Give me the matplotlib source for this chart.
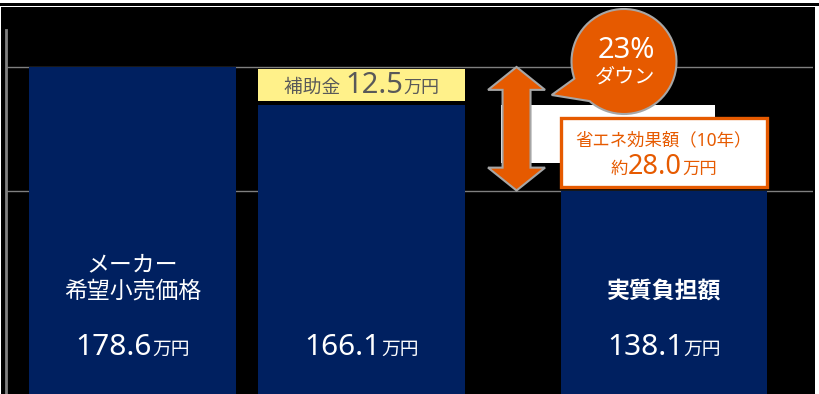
import numpy as np
import matplotlib
matplotlib.use("Agg")
import matplotlib.pyplot as plt
import matplotlib.transforms as mtransforms
from matplotlib.patches import Rectangle, Polygon, PathPatch
from matplotlib.path import Path
from matplotlib.offsetbox import TextArea, HPacker, AnnotationBbox

plt.rcParams['font.family'] = ['Noto Sans', 'Noto Sans CJK JP', 'DejaVu Sans']

# ---- data (単位: 万円) ----
bar_names = ['メーカー\n希望小売価格', '', '実質負担額']
bar_values = [178.6, 166.1, 138.1]
bar_x = [0.0, 1.0, 2.32]
subsidy = 12.5
saving_10yr = 28.0
reduction_pct = 23
unit = '万円'

NAVY = '#002060'
ORANGE = '#E65A00'
YELLOW = '#FFF18A'
GRAY_TXT = '#595959'
LINE_GRAY = '#7F7F7F'
OUTLINE = '#A6A6A6'

W, H = 819, 394
fig = plt.figure(figsize=(W / 100, H / 100), dpi=100, facecolor='white')
px = mtransforms.Affine2D().scale(1 / fig.dpi) + fig.dpi_scale_trans

# black backdrop and top rule
fig.add_artist(Rectangle((1, 0), 814, H - 7.2, transform=px,
                         facecolor='black', edgecolor='none', zorder=-2))
fig.add_artist(Rectangle((0, H - 5.8), W, 3.2, transform=px,
                         facecolor='black', edgecolor='none', zorder=-2))

ax = fig.add_axes([6 / W, 0, 807 / W, 364 / H])
ax.set_facecolor('none')
ax.set_xlim(-0.5524, 2.9716)
ax.set_ylim(71.37, 190.73)
for s in ('top', 'right', 'bottom'):
    ax.spines[s].set_visible(False)
ax.spines['left'].set_color('#808080')
ax.spines['left'].set_linewidth(2.0)
ax.set_xticks([])
ax.set_yticks([bar_values[2], bar_values[0]])
ax.tick_params(left=False, labelleft=False)
ax.yaxis.grid(True, color=LINE_GRAY, lw=1.0)
ax.set_axisbelow(True)

width = 0.9
ax.bar(bar_x, bar_values, width=width, color=NAVY, zorder=3)

# white band behind the savings callout
ax.add_patch(Rectangle((1.609, 147.2), 0.935, bar_values[1] - 147.2,
                       facecolor='white', edgecolor='none', zorder=2))


def rich_text(xy, parts, color, coords='data', weight='normal', z=8):
    boxes = [TextArea(s, textprops=dict(fontsize=fs, color=color, fontweight=weight))
             for s, fs in parts]
    pack = HPacker(children=boxes, align='baseline', pad=0, sep=0)
    ab = AnnotationBbox(pack, xy, xycoords=coords, frameon=False,
                        box_alignment=(0.5, 0.5), pad=0, zorder=z)
    ax.add_artist(ab)


# double-headed arrow spanning the reduction
ax_x = 1.677
top, bot = bar_values[0], bar_values[2]
sw, hw, hl = 0.0611, 0.1245, 7.5
arrow = [(ax_x, top), (ax_x + hw, top - hl), (ax_x + sw, top - hl),
         (ax_x + sw, bot + hl), (ax_x + hw, bot + hl), (ax_x, bot),
         (ax_x - hw, bot + hl), (ax_x - sw, bot + hl), (ax_x - sw, top - hl),
         (ax_x - hw, top - hl)]
ax.add_patch(Polygon(arrow, closed=True, facecolor=ORANGE, edgecolor=OUTLINE,
                     lw=1.5, zorder=6))

# subsidy label above the second bar
xl = bar_x[1] - width / 2
y0 = bar_values[1] + 1.5
y1 = bar_values[0] - 0.75
ax.add_patch(Rectangle((xl, y0), width, y1 - y0, facecolor=YELLOW,
                       edgecolor='none', zorder=4))
rich_text((bar_x[1], (y0 + y1) / 2 - 0.3),
          [('補助金 ', 13.5), (f'{subsidy:.1f}', 21), (unit, 13)], GRAY_TXT)

# labels inside bars
blend = ('data', 'axes fraction')
ax.text(bar_x[0], 0.317, bar_names[0], transform=ax.get_xaxis_transform(),
        ha='center', va='center', fontsize=16.5, color='white',
        linespacing=1.15, zorder=8)
ax.text(bar_x[2], 0.281, bar_names[2], transform=ax.get_xaxis_transform(),
        ha='center', va='center', fontsize=16.5, color='white',
        fontweight='bold', zorder=8)
for xv, v in zip(bar_x, bar_values):
    rich_text((xv, 0.128), [(f'{v:.1f}', 21.5), (unit, 13.5)], 'white',
              coords=blend)

# energy-saving callout box on the third bar
bx0 = bar_x[2] - width / 2
by0 = bar_values[2] + 1.2
bh = 22.7
ax.add_patch(Rectangle((bx0, by0), width, bh, facecolor='white',
                       edgecolor=ORANGE, lw=2.4, zorder=7))
rich_text((bar_x[2], by0 + bh * (1 - 0.327)), [('省エネ効果額（10年）', 12.5)], ORANGE)
rich_text((bar_x[2], by0 + bh * (1 - 0.712)),
          [('約', 12.5), (f'{saving_10yr:.1f}', 19.5), (unit, 12.5)], ORANGE)

# speech bubble
cx, cy, r = 624, H - 61.5, 52.5
arc = Path.arc(229, 559)
verts = arc.vertices * r + np.array([cx, cy])
tip = np.array([[551.7, H - 95]])
verts = np.vstack([verts, tip, verts[:1]])
codes = list(arc.codes) + [Path.LINETO, Path.CLOSEPOLY]
fig.add_artist(PathPatch(Path(verts, codes), transform=px, facecolor=ORANGE,
                         edgecolor=OUTLINE, lw=1.5, zorder=10))
fig.text(626, H - 50.8, f'{reduction_pct}%', transform=px, ha='center',
         va='center', fontsize=21, color='white', zorder=11)
fig.text(625, H - 77.8, 'ダウン', transform=px, ha='center', va='center',
         fontsize=14.5, color='white', zorder=11)

fig.savefig('out.png', dpi=100, facecolor='white')
